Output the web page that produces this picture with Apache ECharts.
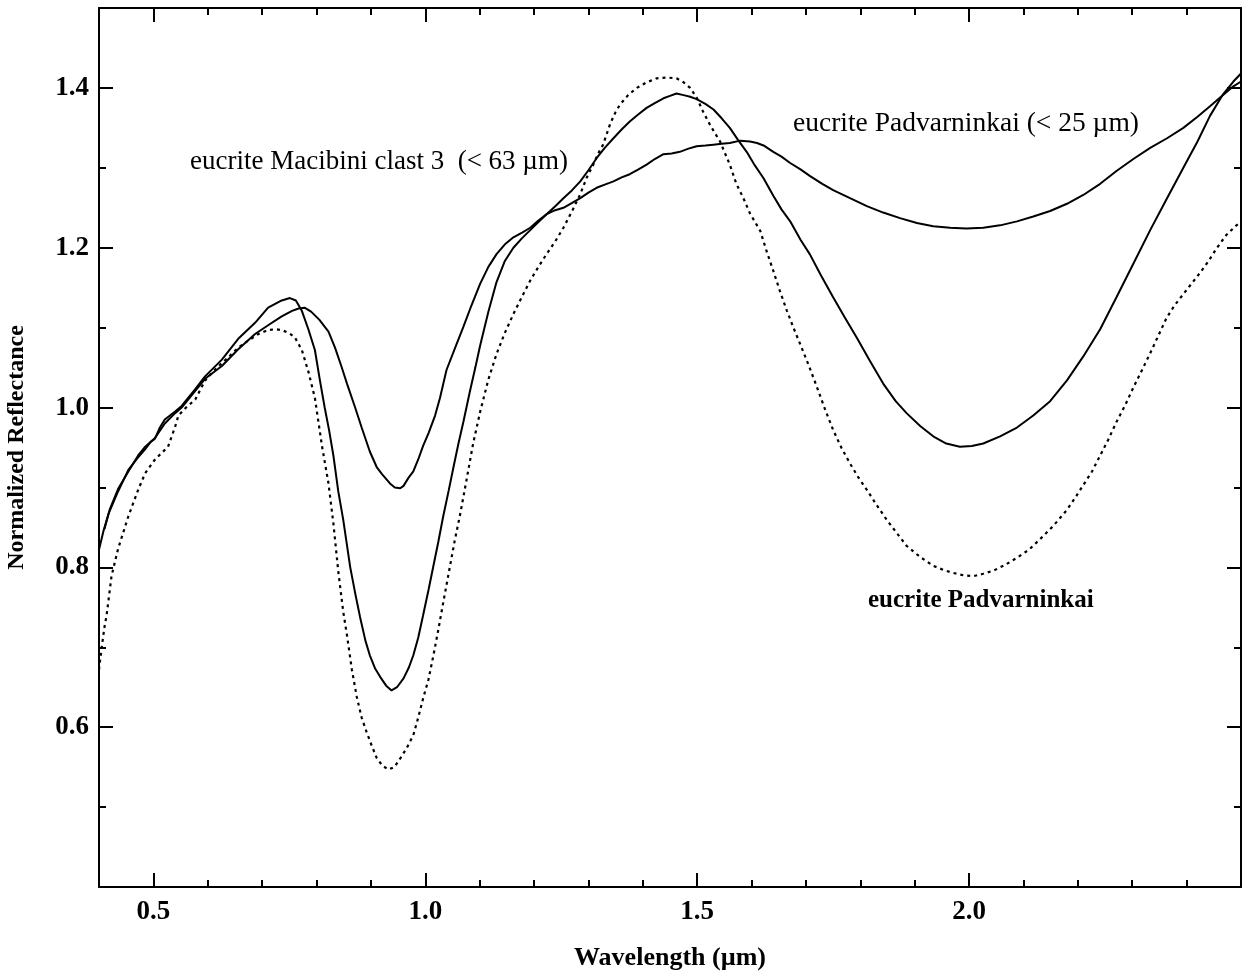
<!DOCTYPE html>
<html>
<head>
<meta charset="utf-8">
<script src="https://cdn.jsdelivr.net/npm/echarts@6/dist/echarts.min.js"></script>
<style>html,body{margin:0;padding:0;background:#fff}#c{width:1243px;height:977px}</style>
</head>
<body>
<div id="c"></div>
<script>
// Wavelength (µm), normalized reflectance
const macibini = [[0.400,0.822],[0.408,0.845],[0.418,0.868],[0.435,0.895],[0.454,0.922],[0.470,0.936],[0.485,0.948],[0.495,0.957],[0.503,0.961],[0.512,0.975],[0.521,0.985],[0.540,0.995],[0.552,1.002],[0.577,1.023],[0.595,1.039],[0.626,1.060],[0.656,1.086],[0.687,1.106],[0.711,1.125],[0.736,1.134],[0.751,1.137],[0.762,1.134],[0.773,1.121],[0.785,1.098],[0.797,1.072],[0.806,1.035],[0.815,1.000],[0.823,0.972],[0.831,0.940],[0.840,0.895],[0.849,0.860],[0.862,0.800],[0.871,0.768],[0.880,0.738],[0.890,0.708],[0.898,0.690],[0.908,0.673],[0.917,0.663],[0.928,0.652],[0.938,0.646],[0.948,0.650],[0.960,0.661],[0.970,0.675],[0.978,0.690],[0.987,0.712],[0.996,0.740],[1.006,0.772],[1.015,0.802],[1.024,0.832],[1.033,0.864],[1.043,0.896],[1.052,0.926],[1.061,0.955],[1.070,0.982],[1.082,1.020],[1.092,1.050],[1.101,1.078],[1.116,1.120],[1.131,1.157],[1.146,1.183],[1.162,1.200],[1.178,1.212],[1.193,1.222],[1.208,1.232],[1.223,1.242],[1.239,1.252],[1.254,1.262],[1.270,1.272],[1.285,1.283],[1.300,1.297],[1.315,1.312],[1.330,1.325],[1.346,1.337],[1.361,1.348],[1.376,1.358],[1.392,1.367],[1.407,1.375],[1.422,1.381],[1.438,1.387],[1.450,1.390],[1.462,1.393],[1.475,1.391],[1.487,1.389],[1.499,1.386],[1.515,1.380],[1.530,1.373],[1.545,1.362],[1.560,1.350],[1.575,1.335],[1.591,1.320],[1.606,1.303],[1.622,1.287],[1.640,1.265],[1.655,1.248],[1.671,1.233],[1.690,1.210],[1.707,1.192],[1.728,1.165],[1.750,1.138],[1.772,1.112],[1.793,1.088],[1.818,1.058],[1.842,1.030],[1.865,1.008],[1.885,0.993],[1.910,0.977],[1.934,0.964],[1.958,0.955],[1.983,0.951],[2.005,0.952],[2.026,0.955],[2.057,0.964],[2.088,0.975],[2.118,0.990],[2.149,1.008],[2.180,1.034],[2.210,1.064],[2.241,1.098],[2.271,1.138],[2.302,1.180],[2.333,1.222],[2.364,1.262],[2.394,1.300],[2.420,1.333],[2.443,1.365],[2.467,1.392],[2.486,1.408],[2.500,1.418]];

const padvarninkaiFine = [[0.410,0.848],[0.420,0.873],[0.435,0.898],[0.454,0.920],[0.472,0.940],[0.485,0.951],[0.503,0.962],[0.521,0.980],[0.540,0.993],[0.552,1.000],[0.577,1.021],[0.595,1.036],[0.626,1.052],[0.656,1.073],[0.687,1.092],[0.711,1.103],[0.736,1.114],[0.755,1.121],[0.767,1.124],[0.778,1.125],[0.790,1.120],[0.805,1.110],[0.822,1.095],[0.834,1.075],[0.846,1.051],[0.856,1.030],[0.871,1.000],[0.883,0.975],[0.898,0.945],[0.911,0.925],[0.920,0.917],[0.935,0.905],[0.944,0.900],[0.954,0.899],[0.960,0.902],[0.969,0.912],[0.978,0.920],[0.987,0.935],[0.996,0.952],[1.006,0.968],[1.018,0.990],[1.027,1.012],[1.039,1.047],[1.055,1.075],[1.070,1.101],[1.085,1.128],[1.101,1.155],[1.116,1.176],[1.131,1.192],[1.146,1.204],[1.162,1.213],[1.178,1.219],[1.193,1.225],[1.208,1.234],[1.223,1.242],[1.239,1.247],[1.254,1.250],[1.270,1.256],[1.285,1.262],[1.300,1.269],[1.315,1.275],[1.330,1.279],[1.346,1.283],[1.361,1.288],[1.376,1.292],[1.392,1.298],[1.407,1.304],[1.422,1.311],[1.438,1.317],[1.453,1.318],[1.468,1.320],[1.484,1.324],[1.499,1.327],[1.515,1.328],[1.530,1.329],[1.545,1.330],[1.560,1.331],[1.579,1.334],[1.597,1.333],[1.610,1.331],[1.622,1.328],[1.640,1.320],[1.655,1.314],[1.671,1.306],[1.690,1.298],[1.707,1.290],[1.730,1.280],[1.750,1.272],[1.781,1.262],[1.812,1.252],[1.842,1.244],[1.873,1.237],[1.904,1.231],[1.934,1.227],[1.965,1.225],[1.995,1.224],[2.026,1.225],[2.057,1.228],[2.088,1.233],[2.118,1.239],[2.149,1.246],[2.180,1.255],[2.210,1.266],[2.241,1.280],[2.271,1.296],[2.302,1.311],[2.333,1.325],[2.364,1.337],[2.394,1.350],[2.420,1.364],[2.443,1.377],[2.467,1.391],[2.486,1.402],[2.500,1.408]];

const padvarninkai = [[0.400,0.672],[0.405,0.700],[0.410,0.725],[0.414,0.740],[0.423,0.789],[0.435,0.823],[0.454,0.864],[0.472,0.897],[0.485,0.918],[0.503,0.935],[0.515,0.943],[0.527,0.951],[0.540,0.976],[0.546,0.990],[0.560,1.000],[0.577,1.010],[0.595,1.034],[0.617,1.050],[0.638,1.063],[0.656,1.075],[0.675,1.084],[0.693,1.092],[0.711,1.097],[0.724,1.098],[0.736,1.097],[0.750,1.093],[0.760,1.088],[0.773,1.072],[0.785,1.045],[0.797,1.012],[0.810,0.952],[0.822,0.905],[0.831,0.855],[0.840,0.795],[0.849,0.745],[0.856,0.715],[0.865,0.672],[0.874,0.638],[0.883,0.612],[0.892,0.594],[0.902,0.576],[0.911,0.561],[0.921,0.552],[0.932,0.547],[0.943,0.550],[0.954,0.561],[0.966,0.574],[0.978,0.590],[0.987,0.612],[0.996,0.636],[1.006,0.660],[1.015,0.690],[1.024,0.722],[1.033,0.756],[1.045,0.800],[1.054,0.833],[1.064,0.866],[1.076,0.910],[1.088,0.955],[1.101,0.995],[1.116,1.035],[1.131,1.067],[1.146,1.093],[1.162,1.117],[1.178,1.139],[1.193,1.159],[1.208,1.176],[1.223,1.192],[1.239,1.208],[1.254,1.225],[1.270,1.246],[1.285,1.267],[1.297,1.288],[1.309,1.304],[1.318,1.318],[1.327,1.329],[1.340,1.355],[1.350,1.370],[1.358,1.379],[1.373,1.391],[1.389,1.400],[1.407,1.407],[1.426,1.412],[1.444,1.413],[1.462,1.412],[1.475,1.407],[1.487,1.400],[1.499,1.388],[1.511,1.370],[1.525,1.352],[1.542,1.333],[1.560,1.304],[1.572,1.280],[1.585,1.262],[1.597,1.243],[1.616,1.221],[1.628,1.195],[1.640,1.171],[1.652,1.146],[1.665,1.121],[1.677,1.100],[1.689,1.080],[1.705,1.053],[1.720,1.026],[1.735,0.998],[1.750,0.972],[1.765,0.950],[1.781,0.930],[1.796,0.913],[1.812,0.897],[1.830,0.878],[1.848,0.860],[1.867,0.843],[1.885,0.827],[1.910,0.813],[1.934,0.802],[1.952,0.797],[1.971,0.793],[1.990,0.790],[2.008,0.789],[2.026,0.792],[2.045,0.796],[2.066,0.803],[2.088,0.812],[2.110,0.822],[2.130,0.835],[2.155,0.852],[2.180,0.872],[2.195,0.887],[2.210,0.903],[2.226,0.920],[2.241,0.940],[2.256,0.960],[2.271,0.982],[2.287,1.003],[2.302,1.025],[2.318,1.047],[2.333,1.068],[2.348,1.090],[2.363,1.112],[2.378,1.128],[2.394,1.142],[2.409,1.155],[2.424,1.168],[2.440,1.183],[2.455,1.199],[2.473,1.216],[2.490,1.227],[2.500,1.233]];

const xMajorTicks = [0.5, 1.0, 1.5, 2.0];
const yMajorTicks = [0.6, 0.8, 1.0, 1.2, 1.4];
const xName = 'Wavelength (\u00b5m)';
const yName = 'Normalized Reflectance';
const labelMacibini = 'eucrite Macibini clast 3  (< 63 \u00b5m)';
const labelFine = 'eucrite Padvarninkai (< 25 \u00b5m)';
const labelBulk = 'eucrite Padvarninkai';

const FONT = '"Liberation Serif", "DejaVu Serif", serif';
const lineS = {color: '#000', width: 2};

function xAx(pos, major, labels) {
  const a = {
    type: 'value', min: 0.4, max: 2.5, position: pos, gridIndex: 0,
    axisLine: {show: major, lineStyle: lineS, onZero: false},
    splitLine: {show: false},
    axisTick: {show: true, inside: true, length: major ? 14 : 7, lineStyle: lineS},
    axisLabel: {show: false}
  };
  if (major) {
    a.axisTick.customValues = xMajorTicks;
    if (labels) {
      a.axisLabel = {show: true, customValues: xMajorTicks, formatter: v => Number(v).toFixed(1),
        fontFamily: FONT, fontWeight: 'bold', fontSize: 27, color: '#000', margin: 12};
      a.name = xName; a.nameLocation = 'middle'; a.nameGap = 58;
      a.nameTextStyle = {fontFamily: FONT, fontWeight: 'bold', fontSize: 26, color: '#000', verticalAlign: 'top'};
    }
  } else {
    a.interval = 0.1;
  }
  return a;
}
function yAx(pos, major, labels) {
  const a = {
    type: 'value', min: 0.4, max: 1.5, position: pos, gridIndex: 0,
    axisLine: {show: major, lineStyle: lineS, onZero: false},
    splitLine: {show: false},
    axisTick: {show: true, inside: true, length: major ? 14 : 7, lineStyle: lineS},
    axisLabel: {show: false}
  };
  if (major) {
    a.axisTick.customValues = yMajorTicks;
    if (labels) {
      a.axisLabel = {show: true, customValues: yMajorTicks, formatter: v => Number(v).toFixed(1),
        fontFamily: FONT, fontWeight: 'bold', fontSize: 27, color: '#000', margin: 10};
      a.name = yName; a.nameLocation = 'middle'; a.nameGap = 70; a.nameRotate = 90;
      a.nameTextStyle = {fontFamily: FONT, fontWeight: 'bold', fontSize: 24, color: '#000'};
    }
  } else {
    a.interval = 0.1;
  }
  return a;
}

const chart = echarts.init(document.getElementById('c'), null, {renderer: 'canvas'});
chart.setOption({
  animation: false,
  backgroundColor: '#fff',
  grid: {left: 99, right: 2, top: 8, bottom: 90, containLabel: false, outerBoundsMode: 'none'},
  xAxis: [xAx('bottom', true, true), xAx('bottom', false), xAx('top', true, false), xAx('top', false)],
  yAxis: [yAx('left', true, true), yAx('left', false), yAx('right', true, false), yAx('right', false)],
  series: [
    {name: 'Macibini', type: 'line', data: macibini, showSymbol: false, xAxisIndex: 0, yAxisIndex: 0,
     lineStyle: {color: '#000', width: 2}, clip: true},
    {name: 'Padvarninkai <25', type: 'line', data: padvarninkaiFine, showSymbol: false, xAxisIndex: 0, yAxisIndex: 0,
     lineStyle: {color: '#000', width: 2}, clip: true},
    {name: 'Padvarninkai', type: 'line', data: padvarninkai, showSymbol: false, xAxisIndex: 0, yAxisIndex: 0,
     lineStyle: {color: '#000', width: 2.2, type: [3, 4]}, clip: true}
  ],
  graphic: [
    {type: 'text', left: 190, top: 148, style: {text: labelMacibini, font: '27px ' + FONT, fill: '#000'}},
    {type: 'text', left: 793, top: 110, style: {text: labelFine, font: '27.5px ' + FONT, fill: '#000'}},
    {type: 'text', left: 868, top: 588, style: {text: labelBulk, font: 'bold 25px ' + FONT, fill: '#000'}}
  ]
});
</script>
</body>
</html>
